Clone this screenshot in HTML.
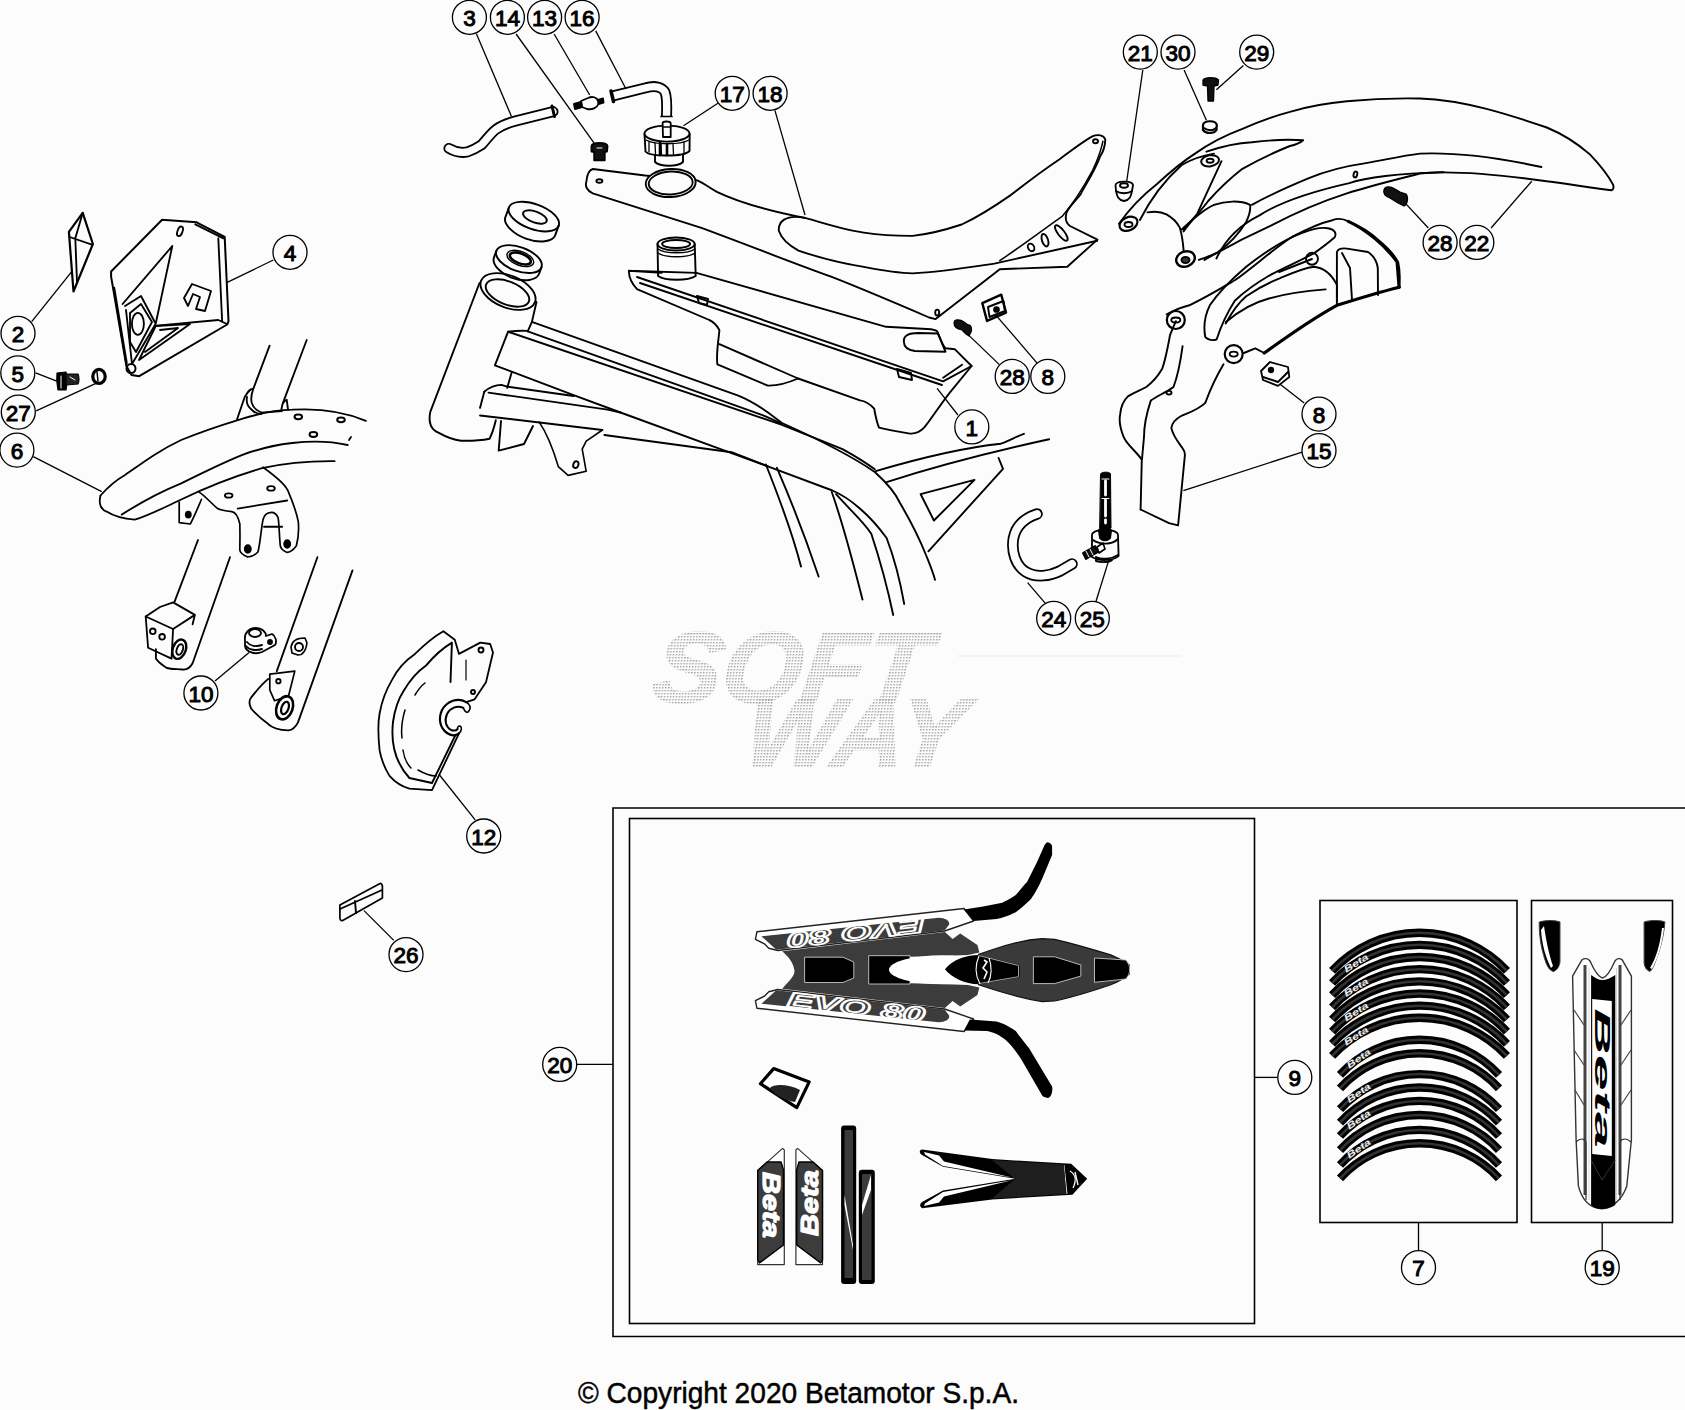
<!DOCTYPE html>
<html><head><meta charset="utf-8"><style>
html,body{margin:0;padding:0;background:#fcfcfc;width:1685px;height:1410px;overflow:hidden}
svg{position:absolute;left:0;top:0}
.cr{position:absolute;left:577px;top:1375px;font-family:"Liberation Sans",sans-serif;font-size:28px;color:#000;white-space:nowrap}
</style></head><body>
<svg width="1685" height="1410" viewBox="0 0 1685 1410">
<defs><pattern id="dots" width="3" height="3" patternUnits="userSpaceOnUse"><rect x="0" y="0" width="1.4" height="1.4" fill="#a0a0a0"/></pattern></defs>
<g font-family="Liberation Sans" font-weight="bold" font-style="italic" fill="url(#dots)" stroke="url(#dots)" stroke-width="2.4">
<text x="650" y="702" font-size="100" textLength="274" lengthAdjust="spacingAndGlyphs" transform="translate(650 702) skewX(-8) translate(-650 -702)">SOFT</text>
<text x="742" y="766" font-size="96" textLength="218" lengthAdjust="spacingAndGlyphs" transform="translate(742 766) skewX(-8) translate(-742 -766)">WAY</text>
</g>
<path d="M958,656 L1182,656" stroke="#f3f3f3" stroke-width="2.5"/>
<g fill="none" stroke="#000" stroke-width="1.85" stroke-linejoin="round" stroke-linecap="round">
<path d="M82.7,212.8 L68.9,231.9 L73.5,291.5 L92.9,244 Z" stroke-width="2.2"/>
<path d="M69.6,237 L91.9,244.7 M82.7,213 L75.3,238.3 L77,282"/>
<path d="M162.1,219.8 L196.6,222.3 L224.7,237 L228.5,321.3 L227.2,324.5 L139.2,376.2 L131.5,374.9 L126.4,366 L111.1,276.6 L111.1,271.5 Z" stroke-width="2"/>
<path d="M195.3,224.3 L223.4,238.3 M218.3,238.3 L222.1,320.6 M157,325.7 L218.3,320 L227,324"/>
<path d="M172.3,246 L122.6,304 M172.3,246 L155.7,323.8 M125,306 L141,296 L155.7,323.8 L132,364 L126,310"/>
<path d="M114,288 L126.5,363" stroke-width="2.4"/>
<ellipse cx="137.9" cy="323.8" rx="6" ry="11" />
<path d="M130,313 L141,304 L152,322 L136,352 L130,342 Z"/>
<path d="M155.7,326 L190,324 L139,360 Z M160,330 L178,328 L145,352"/>
<ellipse cx="180" cy="231.3" rx="2.5" ry="5" transform="rotate(20 180 231.3)"/>
<path d="M184,298 L192,284 L211,291 L205,311 L196,309 L200,297 L193,294 L188,306 Z"/>
<circle cx="131" cy="368.5" r="4.5" stroke-width="2"/>
</g>
<g fill="none" stroke="#000" stroke-width="1.85" stroke-linejoin="round" stroke-linecap="round">
<!-- bolt 5 -->
<path d="M57,373 Q56,381 58,390 L66,390 Q68,381 66,372 Z" fill="#000" stroke-width="1.2"/>
<path d="M66,374 L78,374 Q80,379 78,384 L66,385 Z" fill="#222" stroke-width="1.2"/>
<path d="M61,376 L61,388 M70,377 L75,380" stroke="#fff" stroke-width="1"/>
<!-- washer 27 -->
<ellipse cx="99" cy="376.4" rx="6.2" ry="7" stroke-width="3.2"/>
<path d="M97,372 L98,381" stroke-width="1.5"/>
<!-- front fender 6 -->
<path d="M100.5,495.5 C110,485 118,479 124.7,475.3 C145,461 160,450 181.2,440 C205,430 225,424 241.8,418.8 C258,414 275,410 292.2,409.7 C320,408 345,412 365.9,420.8" stroke-width="1.8"/>
<path d="M100.5,495.5 C98,505 102,510 106.6,511.6 C115,517 125,519 134.8,519.7 C150,515 165,507 181.2,499.5 C205,488 235,476 262,468.2 C290,462 315,461 334.6,461.2" stroke-width="1.8"/>
<path d="M121.7,514.6 C140,503 160,492 181.2,483.4 C200,474 220,464 241.8,455.1 C258,449 275,445 292.2,443 C310,441 330,441 347.7,445"/>
<ellipse cx="298.3" cy="416.8" rx="3.8" ry="2.4" stroke-width="2"/>
<ellipse cx="341" cy="419.8" rx="3.8" ry="2.4" stroke-width="2"/>
<ellipse cx="313.4" cy="434.5" rx="3.8" ry="2.4" stroke-width="2"/>
<ellipse cx="228.7" cy="495.5" rx="3.8" ry="2.2"/>
<ellipse cx="271" cy="488.4" rx="3.8" ry="2.2"/>
<path d="M349,440 L351,437"/>
<!-- fork upper tubes -->
<path d="M269.6,345.7 L253.2,389.1 C250,388 248,392 244.7,397 L236.9,419.7"/>
<path d="M253.2,389.1 C251,395 251,400 251.8,403 C253,407 257,411 262,412.6 L282,411"/>
<path d="M247,397 C246,402 248,407 252,410 C255,413 258,414 261.1,414"/>
<path d="M306.7,340 L282.5,404.1 L281,411.2 M282.5,404.1 C284,401 286,400 286.7,399.8 L288.1,409.8"/>
<!-- bracket -->
<path d="M263,467.2 C278,478 286,485 288.2,491.4 C294,505 297,515 298.3,521.7 C299,530 298,540 296.3,545.9 C293,551 288,553 286.2,552 C282,550 280,547 280.1,543.9 C279,530 279,522 278.1,517.7 C276,513 273,512 270,512.6 C266,513 264,516 263,519.7 C261,530 260,545 257.9,552 C254,556 250,557 247.8,557 C243,555 240,553 239.8,550 C240,540 240,530 239.8,523.7 C238,516 235,512 231.7,511.6 C225,511 220,510 217.6,508.6 C210,502 205,496 199.4,492.4" stroke-width="1.7"/>
<path d="M237.7,508.6 L287.2,500.5 M264,526.7 L282.1,526.7"/>
<ellipse cx="247.8" cy="548.9" rx="3" ry="3.8" fill="#000"/>
<ellipse cx="287.2" cy="543.9" rx="3" ry="3.8" fill="#000"/>
<path d="M179.2,502 L179.2,522.7 L190.3,524 C195,515 199,505 201.4,499.5" stroke-width="1.7"/>
<ellipse cx="188.3" cy="514.6" rx="2.5" ry="3" fill="#000"/>
<!-- lower left fork leg -->
<path d="M198,540 L174.6,601.6 M230,557.2 L192.6,663.3 C190,668 186,670 182.4,669.5 C175,669 170,669 166.8,668 C162,665 158,662 155.9,658.6 L155.9,649.2"/>
<path d="M145.7,616.5 L173.1,629 L171.5,658.6 L148.1,647.7 Z" stroke-width="1.8"/>
<path d="M145.7,616.5 L160,607 L173.1,602.4 L194.9,614.9 L173.1,629 M194.9,614.9 L192.6,624.3"/>
<circle cx="152.8" cy="631.3" r="2.8"/>
<circle cx="162.1" cy="636.8" r="2.8"/>
<ellipse cx="179.3" cy="649.2" rx="6.5" ry="10" stroke-width="2.4" transform="rotate(20 179.3 649.2)"/>
<ellipse cx="179.8" cy="649.5" rx="3" ry="5.5" stroke-width="2" transform="rotate(20 179.8 649.5)"/>
<!-- lower right fork leg -->
<path d="M317.4,557.2 L276.8,671.1 M352.5,570.4 L297.9,722.6 C295,728 292,730 288.5,730.4 C280,730 272,728 268.3,724.1 C260,718 254,712 251.1,708.5 C249,704 249,700 251.1,697.6 C257,690 262,684 268.3,678.9"/>
<path d="M269.8,674.2 L294.8,671.1 L288.5,696 L274.5,700.7 L269.8,690 Z" stroke-width="1.7"/>
<ellipse cx="284.6" cy="707.8" rx="8" ry="12" stroke-width="2.6" transform="rotate(20 284.6 707.8)"/>
<ellipse cx="285" cy="708" rx="3.5" ry="6.5" stroke-width="2.2" transform="rotate(20 285 708)"/>
<circle cx="278.4" cy="681.2" r="2.2"/>
<!-- part 10 clamp -->
<path d="M245,640 C244,632 250,628 256,628 C262,628 266,632 266,636 L272,634 C276,636 277,642 275,645 L262,652 C255,655 246,652 245,646 Z" stroke-width="1.8"/>
<ellipse cx="255" cy="633" rx="6" ry="4"/>
<path d="M247,642 C250,646 256,647 262,645 M246,646 C249,650 256,651 262,649"/>
<circle cx="270" cy="642" r="2" fill="#000"/>
<!-- small nut -->
<path d="M291,647 C292,640 298,638 305,638 L307,643 C306,650 303,655 298,655 L292,653 Z" stroke-width="1.6"/>
<circle cx="299" cy="647" r="4"/>
</g>
<g fill="none" stroke="#000" stroke-width="1.9" stroke-linejoin="round" stroke-linecap="round">
<!-- head tube -->
<ellipse cx="508" cy="291.5" rx="29" ry="16" transform="rotate(22 508 291.5)"/>
<ellipse cx="507.5" cy="293" rx="23" ry="11.5" transform="rotate(22 507.5 293)"/>
<path d="M479.5,283 L430.2,412.1 C428,424 432,430 438.4,432.6 C448,438 455,440 461,440.7 C475,441 483,440 489.6,438.7 C493,432 494,428 495.8,420.3"/>
<path d="M536.5,302 L531.9,321.9 L527.7,331.3"/>
<path d="M511.5,373 L507.2,387.9"/>
<!-- bearing rings -->
<g transform="rotate(20 533.8 216.6)">
<ellipse cx="533.8" cy="216.6" rx="26.5" ry="12.5"/>
<path d="M507.3,216.6 L507.3,227 C507.3,234 520,240 533.8,240 C548,240 560.3,234 560.3,227 L560.3,216.6"/>
<ellipse cx="535" cy="216.6" rx="12.5" ry="5.5"/>
</g>
<g transform="rotate(20 518.9 259.1)">
<ellipse cx="518.9" cy="259.1" rx="24" ry="12"/>
<path d="M494.9,259.1 L494.9,266 C494.9,273 506,279 518.9,279 C532,279 542.9,273 542.9,266 L542.9,259.1"/>
<ellipse cx="520" cy="258" rx="14" ry="7" stroke-width="1.4"/>
<ellipse cx="520" cy="258" rx="11" ry="5" stroke-width="2.6"/>
</g>
<!-- top tube -->
<path d="M531.9,321.9 L737.6,395.3 C760,404 772,416 782,423 C820,440 850,455 874.8,472 C888,484 896,494 900,503 C910,520 920,540 926,555 C930,565 933,572 935,579.8"/>
<path d="M527.7,331.3 L761.8,414.8 C770,418 776,421 782,424"/>
<path d="M508.1,331.7 L782,424.9 C800,432 820,440 842.5,449.1 C855,456 865,462 874.8,469.3"/>
<path d="M526.8,330.9 C520,330.5 514,331 508.1,331.7 L494.9,365.3 L573.6,395.1 L620.5,412.5 L731.5,453.2 L767.8,466.3 L832.4,490.5 C850,498 870,515 886.6,538 C895,560 900,580 904.2,604"/>
<!-- down tube -->
<path d="M484.3,391.7 L480,407.9 M480,415.5 L602.4,430 M604.4,435 L731.5,452.2 L767.8,466.3"/>
<path d="M484.3,391.7 C490,387 496,385 501.3,384.9 L507.2,386.6 L573.6,396"/>
<path d="M488.5,392.6 L607.7,409.6 L620.5,412.5"/>
<path d="M765.9,464.5 C780,500 793,535 801,566.6 M776.9,467.8 C793,505 808,545 818.6,576.5"/>
<path d="M831.8,492 C845,530 855,570 862.5,599.6 M836.1,494.2 C850,510 862,520 871.3,533.7 C880,560 888,590 893.2,615"/>
<!-- head-tube lower gusset & tab -->
<path d="M501,421 L498.7,450.6 L524,444 L533,426"/>
<path d="M539.1,421.9 C548,435 554,452 558.3,466.6 L568.1,475.4 L586.2,471.3 L582.2,449.1 L586.2,441.1 L602.4,430" stroke-width="1.6"/>
<ellipse cx="575.5" cy="464.5" rx="2.5" ry="3.5" transform="rotate(20 575.3 465.5)"/>
<!-- subframe -->
<path d="M875.7,471.1 C920,458 960,448 1000.8,443.7 C1010,440 1018,436 1023.9,433.8 M886.6,482.1 C940,465 1000,450 1049.1,439.3"/>
<path d="M998.6,458 L1003,468.9 L928.4,551.3 M920.7,494.2 L974.5,479.9 L933.9,520.5 Z"/>
</g>
<g fill="none" stroke="#000" stroke-width="1.9" stroke-linejoin="round" stroke-linecap="round">
<!-- seat 18 -->
<path d="M592.8,169 L645.1,175.5 L697.3,180.4 C705,184 710,188 716.9,191.8 C740,203 775,212 805,217.9 C830,225 845,230 863.8,232.6 C880,235 897,236 912.7,235.9 C930,234 945,230 961.7,224.5 C980,216 995,206 1010.7,195.1 C1030,180 1045,169 1059.6,159.2 C1072,150 1082,142 1092.3,136.3 C1098,134 1104,135 1105.3,139.6 C1105,147 1103,152 1100.4,155.9 C1093,175 1085,185 1080.6,194.4 C1072,205 1066,210 1066.1,214.9 C1065,220 1066,223 1070,226 L1097.4,239.6 L1067.3,266.7 L999.8,269.2 L935.6,319.1 L929.1,317.5 C900,305 860,288 831.1,276.7 C790,262 740,242 700.6,227.7 C660,215 620,202 592.8,193.4 C587,191 585,186 586.3,182 C587,174 589,170 592.8,169 Z"/>
<path d="M805,217.9 C785,214 778,222 778.9,231 C782,240 790,246 798.5,250.6 C820,258 840,263 863.8,266.9 C880,270 897,273 912.7,273.4 C940,272 965,268 994.3,263.6 C1030,256 1065,248 1097.2,240.8"/>
<path d="M1102.9,141.3 C1100,155 1096,163 1092.6,170.3 C1082,190 1072,205 1062.5,216.1 C1040,232 1020,247 999.8,260.7" stroke-width="1.5"/>
<ellipse cx="1031.1" cy="247.4" rx="3" ry="4" transform="rotate(-30 1031.1 247.4)"/>
<ellipse cx="1045" cy="240.2" rx="3" ry="6.5" transform="rotate(-18 1045 240.2)"/>
<ellipse cx="1061.3" cy="233" rx="3.2" ry="9.5" transform="rotate(-38 1061.3 233)"/>
<ellipse cx="937.2" cy="312.6" rx="2" ry="3"/>
<ellipse cx="599.4" cy="181" rx="3" ry="1.8"/>
<ellipse cx="1095.5" cy="141.2" rx="2.5" ry="2"/>
<!-- gasket -->
<ellipse cx="670.7" cy="183" rx="25" ry="14" transform="rotate(-3 670.7 183)" fill="#fcfcfc"/>
<ellipse cx="670.7" cy="183" rx="22" ry="11.5" transform="rotate(-3 670.7 183)"/>
<!-- tank 1 -->
<path d="M628.8,270.8 L661.6,272.9 M696.4,272.9 L886.1,326.8 L931.2,329.2 C935,330 937,331 937.2,331.5 C940,338 942,345 945.5,348.2 L955,349.3 L971.6,366 L950.2,392.1 C940,405 932,418 924.1,427.7 C920,432 915,434 909.9,433.6 C900,432 888,430 879,427.7 C876,420 875,413 874.2,408.7 C870,404 865,401 860,400.4 L798.1,378.5 C790,382 780,386 767.8,385.6 L717.4,364.4 C716,355 718,345 719.4,330.1 C717,325 712,321 709.3,320 L637,289.2 C632,284 629,278 628.8,270.8 Z"/>
<path d="M637,277 L943.1,381.4 L971.6,366 M640,283 L941.9,385"/>
<path d="M962.1,364.8 L943.1,377.8"/>
<path d="M719.4,344.2 L798.1,378.5"/>
<path d="M697,296 L708,299 L707,305 L699,303 Z M897,369 L911,373 L912,380 L899,377 Z"/>
<path d="M903.9,342 C903,335 910,333 918,333 L938,333.5 C941,340 943,346 945.5,351.7 L915,351 C907,350 904,347 903.9,342 Z"/>
<!-- filler neck -->
<ellipse cx="676.1" cy="244" rx="18.6" ry="6.5"/>
<ellipse cx="676.1" cy="244" rx="14" ry="4"/>
<path d="M657.5,244 L658.1,276 C665,281 688,281 695.7,276 L694.7,244"/>
<path d="M658,249 C665,254 688,254 695,249 M658,253 C665,258 688,258 695,253" stroke-width="1.3"/>
<!-- filler cap 17 -->
<path d="M655,154 L655,162 C660,167 678,167 683,162 L683,154" fill="#fcfcfc"/>
<path d="M644.5,134 L645.5,151.5 C650,157 684,157 689.5,151 L689.7,134" fill="#fcfcfc"/>
<ellipse cx="667" cy="133.6" rx="22.5" ry="8" fill="#fcfcfc"/>
<path d="M646,140 C655,145 680,145 689,140" stroke-width="1.4"/>
<path d="M649,142 L649,152 M655,143 L655.5,154 M661,143.5 L661.5,155 M673,143.5 L673.5,155 M684,142 L684,153" stroke-width="1.3"/>
<path d="M667,144 L667,155 M660,143 L660,155" stroke-width="2.6"/>
<path d="M663,137 L662.6,123 C663,121 670,121 670.7,123 L670.7,137 Z" fill="#fcfcfc" stroke-width="1.8"/>
<path d="M663,127 L670.5,127" stroke-width="1.5"/>
<!-- bolt 14 -->
<path d="M591.5,146 C592,142 607,142 607.5,146 L607,151.5 L604.7,152 L604.7,160.2 L594.2,160.2 L594.2,152 L591.5,151.5 Z" fill="#111"/>
<path d="M597,148 L602,148" stroke="#fcfcfc" stroke-width="1"/>
</g>
<g stroke-linejoin="round">
<!-- upper strip -->
<path d="M756.9,931.8 L964,908.5 L973.6,921 L944.6,931 L777.8,950.5 L768.8,948.2 L764.4,943.8 L755.4,939.3 Z" fill="#fff" stroke="#222" stroke-width="1.4"/>
<path d="M761.4,936.3 L938.7,917.7 C946,918 950,921 949.1,924.4 L944.6,930.4 L776.3,949.7 Z" fill="#3c3c3c"/>
<text x="0" y="0" transform="translate(856 933) rotate(173.4)" font-family="Liberation Sans" font-weight="bold" font-style="italic" font-size="21" fill="none" stroke="#fff" stroke-width="1.6" text-anchor="middle" dominant-baseline="central" textLength="138" lengthAdjust="spacingAndGlyphs">EVO 80</text>
<!-- lower strip -->
<path d="M756.9,1008.2 L964,1031.5 L973.6,1019 L944.6,1009 L777.8,989.5 L768.8,991.8 L764.4,996.2 L755.4,1000.7 Z" fill="#fff" stroke="#222" stroke-width="1.4"/>
<path d="M761.4,1003.7 L938.7,1022.3 C946,1022 950,1019 949.1,1015.6 L944.6,1009.6 L776.3,990.3 Z" fill="#3c3c3c"/>
<text x="0" y="0" transform="translate(856 1007) rotate(6.6)" font-family="Liberation Sans" font-weight="bold" font-style="italic" font-size="21" fill="none" stroke="#fff" stroke-width="1.6" text-anchor="middle" dominant-baseline="central" textLength="138" lengthAdjust="spacingAndGlyphs">EVO 80</text>
<!-- center panel -->
<path d="M782.2,951.2 L944.9,932 L952.6,939.1 L960.2,933.4 L977.4,944.9 L979.4,952.5 L967.9,955 L940,956 L900,957 L900,983 L940,984 L967.9,985 L979.4,987.5 L977.4,995.1 L960.2,1006.6 L952.6,1000.9 L944.9,1008 L782.2,988.8 C790,980 796,975 794.2,969.1 C793,963 789,957 782.2,951.2 Z" fill="#3c3c3c"/>
<path d="M804.6,957.2 L843,957.2 L853.8,962 L853.8,978 L843,982.5 L804.6,982.5 Z" fill="#000" stroke="#ddd" stroke-width="0.8"/>
<path d="M868.7,955.7 L910,955.7 L910,984 L868.7,984 Z" fill="#000" stroke="#ddd" stroke-width="0.8"/>
<ellipse cx="942" cy="969.8" rx="53" ry="14.5" fill="#fff"/>
<!-- seat decal -->
<path d="M978.6,954.3 C1000,947 1020,940 1042.2,938.7 L1054.6,939.3 C1075,944 1095,950 1110.7,954.9 C1120,959 1126,962 1129.4,964.9 L1129.4,974 C1126,977 1120,981 1110.7,984.8 C1095,990 1075,997 1054.6,1001 L1042.2,1001.6 C1020,998 1000,992 978.6,984.8 Z" fill="#3a3a3a" stroke="#111" stroke-width="1.2"/>
<path d="M945,969.2 C952,960 965,955 978.6,954.9 L1019.7,964.9 L1019.7,977.3 L978.6,984.2 C965,984 952,978 945,969.2 Z" fill="#000"/>
<path d="M978.6,955.5 L1018.5,965.5 L1018.5,976.7 L978.6,983.6" stroke="#ccc" stroke-width="0.8" fill="none"/>
<path d="M979,956 C975,965 975,975 980,984 M989,958 C992,966 992,976 988,983" stroke="#fff" stroke-width="1.1" fill="none"/>
<path d="M984,960 L987,962 L983,968 L987,972 L984,979" stroke="#fff" stroke-width="1.6" fill="none"/>
<path d="M1033.4,956.8 L1054.6,956.8 L1080.8,964.9 L1080.8,976.1 L1054.6,983.6 L1033.4,983.6 Z" fill="#000" stroke="#ddd" stroke-width="0.8"/>
<path d="M1094.5,958 L1126,960 C1129,964 1130,967 1129.4,969.2 C1130,972 1129,975 1126,979 L1094.5,982.3 Z" fill="#000" stroke="#ddd" stroke-width="0.8"/>
<!-- swooshes -->
<path d="M964,909.5 L983.2,906.6 L1002.3,902.8 C1010,899 1013,897 1015.7,895.1 C1021,889 1024,885 1027.2,881.7 L1036.8,862.5 L1044.5,845.3 C1046,843 1047,842 1048.3,842.4 C1050,843 1052,844 1052.1,846.3 L1052.1,854.9 L1042.5,877.9 C1038,888 1035,893 1031,898.9 C1025,905 1020,909 1015.7,912.3 C1008,916 1003,918 996.6,919 L973.6,921 Z" fill="#000"/>
<path d="M964,1030.5 L969.8,1019.6 L996.6,1021.5 C1005,1024 1010,1027 1015.7,1031 C1021,1038 1025,1043 1029.1,1048.3 L1052.1,1086.6 C1053,1092 1051,1097 1048.3,1098 C1046,1098 1044,1097 1042.5,1096.1 L1021.5,1059.8 C1016,1051 1011,1045 1006.2,1040.6 C1000,1035 993,1032 987,1031 Z" fill="#000"/>
<!-- small frame decal -->
<path d="M760.4,1083.7 L773.7,1068.6 L809.2,1081.9 L796.8,1107.6 Z" fill="#fff" stroke="#000" stroke-width="3.2"/>
<path d="M770,1088 C775,1083 790,1085 800,1090 L795,1102 C785,1100 775,1096 770,1088 Z" fill="#222"/>
<!-- beta tank decals -->
<path d="M757.7,1170.6 L782.6,1148.4 L784.3,1150 L784.3,1264.6 L757.7,1264.6 Z" fill="#fff" stroke="#333" stroke-width="1.2"/>
<path d="M757.7,1170.6 L767,1162 L781,1162 L783.5,1170 L783.5,1245 L759.5,1262.9 L757.7,1260 Z" fill="#3c3c3c" stroke="#000" stroke-width="1.4"/>
<text transform="translate(771 1205) rotate(90)" font-family="Liberation Sans" font-weight="bold" font-style="italic" font-size="24" fill="#fff" stroke="#fff" stroke-width="1.2" text-anchor="middle" dominant-baseline="central" textLength="66" lengthAdjust="spacingAndGlyphs">Beta</text>
<path d="M822.5,1170.6 L797.6,1148.4 L795.9,1150 L795.9,1264.6 L822.5,1264.6 Z" fill="#fff" stroke="#333" stroke-width="1.2"/>
<path d="M822.5,1170.6 L813,1162 L799,1162 L796.7,1170 L796.7,1245 L820.7,1262.9 L822.5,1260 Z" fill="#3c3c3c" stroke="#000" stroke-width="1.4"/>
<text transform="translate(809 1203) rotate(-90)" font-family="Liberation Sans" font-weight="bold" font-style="italic" font-size="24" fill="#fff" stroke="#fff" stroke-width="1.2" text-anchor="middle" dominant-baseline="central" textLength="66" lengthAdjust="spacingAndGlyphs">Beta</text>
<!-- tall strips -->
<rect x="841.1" y="1125.4" width="15.1" height="158.7" rx="3" fill="#000"/>
<rect x="844.5" y="1130" width="8.5" height="148" rx="1" fill="#3a3a3a"/>
<path d="M844.5,1195 L853,1245 L853,1250 L844.5,1205 Z" fill="#fff"/>
<rect x="858.8" y="1169.7" width="16" height="114.4" rx="3" fill="#000"/>
<rect x="862" y="1174" width="9.5" height="106" rx="1" fill="#3a3a3a"/>
<path d="M871,1175 L862,1205 L862,1215 L871,1190 Z" fill="#fff"/>
<!-- chevron decal -->
<path d="M922.2,1149.6 L992.2,1159.1 L1071.2,1163.8 L1087.2,1178.7 L1072.4,1194.7 L992.2,1199.4 L922.2,1208.3 C919,1206 920,1204 922,1202 L943,1190.5 L1015.4,1178.7 L943,1166.8 L922,1155 C919,1153 919,1150 922.2,1149.6 Z" fill="#000"/>
<path d="M924,1152 L939,1155.5 L944,1161.5 L1012,1177.6 L943,1166 L925,1154.5 Z" fill="#fff"/>
<path d="M924,1205.9 L939,1202.4 L944,1196.4 L1012,1180.3 L943,1191.9 L925,1203.4 Z" fill="#fff"/>
<path d="M1064,1165 L1067,1194" stroke="#ddd" stroke-width="1"/>
<path d="M992,1160 L1064,1164.5 L1066,1194 L992,1198.5 L1015,1178.9 Z" fill="#1e1e1e"/>
<path d="M1070,1171 C1075,1174 1077,1180 1073,1188 M1075,1172 L1078,1185" stroke="#fff" stroke-width="1.3" fill="none"/>
</g>
<g fill="none" stroke-linecap="butt">
<path d="M1332.1,970.9 A119.2,119.2 0 0 1 1506.9,970.9" stroke="#000" stroke-width="8.4"/>
<path d="M1332.1,970.9 A119.2,119.2 0 0 1 1506.9,970.9" stroke="#333" stroke-width="2.52"/>
<path d="M1332.1,983.0 A119.2,119.2 0 0 1 1506.9,983.0" stroke="#000" stroke-width="8.4"/>
<path d="M1332.1,983.0 A119.2,119.2 0 0 1 1506.9,983.0" stroke="#333" stroke-width="2.52"/>
<text transform="translate(1356.2 963.1) rotate(-32.1)" font-family="Liberation Sans" font-weight="bold" font-style="italic" font-size="9" fill="#eee" text-anchor="middle" dominant-baseline="central" textLength="27" lengthAdjust="spacingAndGlyphs">Beta</text>
<path d="M1332.1,995.2 A119.2,119.2 0 0 1 1506.9,995.2" stroke="#000" stroke-width="8.4"/>
<path d="M1332.1,995.2 A119.2,119.2 0 0 1 1506.9,995.2" stroke="#333" stroke-width="2.52"/>
<path d="M1332.1,1007.3 A119.2,119.2 0 0 1 1506.9,1007.3" stroke="#000" stroke-width="8.4"/>
<path d="M1332.1,1007.3 A119.2,119.2 0 0 1 1506.9,1007.3" stroke="#333" stroke-width="2.52"/>
<text transform="translate(1356.2 987.4) rotate(-32.1)" font-family="Liberation Sans" font-weight="bold" font-style="italic" font-size="9" fill="#eee" text-anchor="middle" dominant-baseline="central" textLength="27" lengthAdjust="spacingAndGlyphs">Beta</text>
<path d="M1332.1,1019.5 A119.2,119.2 0 0 1 1506.9,1019.5" stroke="#000" stroke-width="8.4"/>
<path d="M1332.1,1019.5 A119.2,119.2 0 0 1 1506.9,1019.5" stroke="#333" stroke-width="2.52"/>
<path d="M1332.1,1031.6 A119.2,119.2 0 0 1 1506.9,1031.6" stroke="#000" stroke-width="8.4"/>
<path d="M1332.1,1031.6 A119.2,119.2 0 0 1 1506.9,1031.6" stroke="#333" stroke-width="2.52"/>
<text transform="translate(1356.2 1011.7) rotate(-32.1)" font-family="Liberation Sans" font-weight="bold" font-style="italic" font-size="9" fill="#eee" text-anchor="middle" dominant-baseline="central" textLength="27" lengthAdjust="spacingAndGlyphs">Beta</text>
<path d="M1332.1,1043.8 A119.2,119.2 0 0 1 1506.9,1043.8" stroke="#000" stroke-width="8.4"/>
<path d="M1332.1,1043.8 A119.2,119.2 0 0 1 1506.9,1043.8" stroke="#333" stroke-width="2.52"/>
<path d="M1332.1,1055.9 A119.2,119.2 0 0 1 1506.9,1055.9" stroke="#000" stroke-width="8.4"/>
<path d="M1332.1,1055.9 A119.2,119.2 0 0 1 1506.9,1055.9" stroke="#333" stroke-width="2.52"/>
<text transform="translate(1356.2 1036.0) rotate(-32.1)" font-family="Liberation Sans" font-weight="bold" font-style="italic" font-size="9" fill="#eee" text-anchor="middle" dominant-baseline="central" textLength="27" lengthAdjust="spacingAndGlyphs">Beta</text>
<path d="M1340.0,1074.9 A107.6,107.6 0 0 1 1499.0,1074.9" stroke="#000" stroke-width="8.4"/>
<path d="M1340.0,1074.9 A107.6,107.6 0 0 1 1499.0,1074.9" stroke="#333" stroke-width="2.52"/>
<text transform="translate(1358.7 1058.6) rotate(-34.4)" font-family="Liberation Sans" font-weight="bold" font-style="italic" font-size="9" fill="#eee" text-anchor="middle" dominant-baseline="central" textLength="27" lengthAdjust="spacingAndGlyphs">Beta</text>
<path d="M1340.0,1088.3 A107.6,107.6 0 0 1 1499.0,1088.3" stroke="#000" stroke-width="8.4"/>
<path d="M1340.0,1088.3 A107.6,107.6 0 0 1 1499.0,1088.3" stroke="#333" stroke-width="2.52"/>
<path d="M1340.0,1109.2 A107.6,107.6 0 0 1 1499.0,1109.2" stroke="#000" stroke-width="8.4"/>
<path d="M1340.0,1109.2 A107.6,107.6 0 0 1 1499.0,1109.2" stroke="#333" stroke-width="2.52"/>
<text transform="translate(1358.7 1092.9) rotate(-34.4)" font-family="Liberation Sans" font-weight="bold" font-style="italic" font-size="9" fill="#eee" text-anchor="middle" dominant-baseline="central" textLength="27" lengthAdjust="spacingAndGlyphs">Beta</text>
<path d="M1340.0,1122.6 A107.6,107.6 0 0 1 1499.0,1122.6" stroke="#000" stroke-width="8.4"/>
<path d="M1340.0,1122.6 A107.6,107.6 0 0 1 1499.0,1122.6" stroke="#333" stroke-width="2.52"/>
<path d="M1340.0,1136.0 A107.6,107.6 0 0 1 1499.0,1136.0" stroke="#000" stroke-width="8.4"/>
<path d="M1340.0,1136.0 A107.6,107.6 0 0 1 1499.0,1136.0" stroke="#333" stroke-width="2.52"/>
<text transform="translate(1358.7 1119.7) rotate(-34.4)" font-family="Liberation Sans" font-weight="bold" font-style="italic" font-size="9" fill="#eee" text-anchor="middle" dominant-baseline="central" textLength="27" lengthAdjust="spacingAndGlyphs">Beta</text>
<path d="M1340.0,1150.1 A107.6,107.6 0 0 1 1499.0,1150.1" stroke="#000" stroke-width="8.4"/>
<path d="M1340.0,1150.1 A107.6,107.6 0 0 1 1499.0,1150.1" stroke="#333" stroke-width="2.52"/>
<path d="M1340.0,1165.0 A107.6,107.6 0 0 1 1499.0,1165.0" stroke="#000" stroke-width="8.4"/>
<path d="M1340.0,1165.0 A107.6,107.6 0 0 1 1499.0,1165.0" stroke="#333" stroke-width="2.52"/>
<text transform="translate(1358.7 1148.7) rotate(-34.4)" font-family="Liberation Sans" font-weight="bold" font-style="italic" font-size="9" fill="#eee" text-anchor="middle" dominant-baseline="central" textLength="27" lengthAdjust="spacingAndGlyphs">Beta</text>
<path d="M1340.0,1178.4 A107.6,107.6 0 0 1 1499.0,1178.4" stroke="#000" stroke-width="8.4"/>
<path d="M1340.0,1178.4 A107.6,107.6 0 0 1 1499.0,1178.4" stroke="#333" stroke-width="2.52"/>
</g><g stroke-linejoin="round">
<!-- side decals -->
<path d="M1539.2,922 C1545,920 1555,920 1560,921.9 L1560,962 C1559,968 1556,971 1553.1,971.5 C1549,970 1547,966 1545,960 C1541,948 1539,935 1539.2,922 Z" fill="#000" stroke="#444" stroke-width="1"/>
<path d="M1541,930 C1542,945 1546,958 1551,968 L1553,966 C1549,955 1546,940 1544,926 Z" fill="#fff"/>
<path d="M1644.1,922 C1650,920 1660,920 1664.9,921.9 C1664,935 1660,950 1656,960 C1654,966 1652,970 1649.9,971.5 C1646,970 1644,966 1644.1,962 Z" fill="#000" stroke="#444" stroke-width="1"/>
<path d="M1662,928 C1660,945 1656,958 1650,968 L1652,969 C1658,958 1662,945 1664,928 Z" fill="#fff"/>
<!-- main fender decal -->
<path d="M1581.9,959.9 C1584,958 1588,958 1590,961 C1594,970 1598,977 1602.6,978 C1607,977 1611,970 1615,961 C1617,958 1620,958 1622.2,959.9 L1631.4,976.1 L1631.4,1139.7 L1626.8,1185.9 C1622,1200 1612,1208 1601.5,1208.9 C1590,1208 1582,1200 1578.4,1185.9 L1576.1,1139.7 L1572.6,976.1 Z" fill="#fff" stroke="#333" stroke-width="1.4"/>
<path d="M1591.1,975 C1595,978 1599,980 1602.6,980 C1606,980 1611,978 1615.3,975 L1615.3,1205 C1611,1208 1605,1209 1602,1209 C1598,1209 1594,1208 1591.1,1205 Z" fill="#000"/>
<path d="M1585,965 L1585,1195 M1620,965 L1620,1195" stroke="#444" stroke-width="3" fill="none"/>
<path d="M1589,968 L1589,1200 M1616.5,968 L1616.5,1200" stroke="#ccc" stroke-width="0.8" fill="none"/>
<path d="M1592.2,999.1 L1611.8,1001 L1611.8,1155.9 L1592.2,1154 Z" fill="#fff"/>
<text transform="translate(1602 1078) rotate(90)" font-family="Liberation Sans" font-weight="bold" font-style="italic" font-size="22" fill="#000" text-anchor="middle" dominant-baseline="central" textLength="140" lengthAdjust="spacingAndGlyphs">Beta</text>
<path d="M1574,1010 L1584,1025 M1574,1050 L1584,1065 M1575,1090 L1584,1105 M1631,1010 L1621,1025 M1631,1050 L1621,1065 M1631,1090 L1621,1105" stroke="#444" stroke-width="1.2" fill="none"/>
<path d="M1576,1142 C1580,1138 1584,1138 1586,1142 L1586,1200 M1631,1142 C1627,1138 1622,1138 1620,1142 L1620,1200" stroke="#333" stroke-width="1.2" fill="none"/>
<path d="M1591.1,1160 L1602,1180 L1615.3,1160" stroke="#333" stroke-width="1" fill="none"/>
</g>
<g fill="none" stroke="#000" stroke-width="1.9" stroke-linejoin="round" stroke-linecap="round">
<!-- rear fender 22 -->
<path d="M1119,223.8 C1130,208 1143,195 1157,184 C1170,172 1182,162 1195,153.6 C1210,143 1226,135 1242.4,128.9 C1258,122 1274,116 1289.9,111.8 C1310,106 1328,103 1346.9,101.3 C1370,99 1395,98 1420,98.5 C1465,100 1510,115 1546.8,127.5 C1565,135 1578,144 1589.9,154.4 C1600,165 1608,175 1613.2,184.9 C1614,188 1613,190 1611.4,190.3 C1590,188 1570,184 1546.8,181.3 C1510,176 1475,172 1439,172.4 C1400,173 1365,178 1349.3,183.1 C1310,192 1280,202 1259.5,215.4 C1240,225 1225,240 1216.4,258.5"/>
<path d="M1251.9,204.8 C1270,195 1290,186 1308.9,178.2 C1328,170 1346,166 1365.9,163.1 C1385,160 1400,156 1420,153.6 C1460,152 1500,158 1541.4,167"/>
<path d="M1204.5,259.9 C1225,248 1248,236 1270.9,225.7 C1295,213 1320,202 1346.9,193.4 C1370,186 1395,180 1420,173.5 C1440,172 1450,172 1439,172.4"/>
<!-- left arm -->
<path d="M1139.9,220 C1150,200 1165,180 1181.7,165 C1190,160 1200,156 1214,153.6"/>
<path d="M1206.4,151.7 C1220,147 1235,143 1251.9,142.2 C1270,140 1285,139 1303.2,140.3 C1300,143 1295,145 1289.9,146 C1275,152 1258,160 1242.4,168.8 C1228,180 1218,190 1208.2,201 C1200,212 1190,222 1183.6,231.4"/>
<path d="M1221.5,161.2 L1196.9,214.3 L1183.6,229.5"/>
<path d="M1147.5,212.4 C1155,211 1162,212 1166.5,214.3 C1173,218 1177,222 1179.8,227.6 C1182,235 1183,243 1183.6,250.4"/>
<path d="M1181.7,229.5 C1192,220 1202,210 1214,204.8 C1225,201 1240,200 1250,204.8 C1251,210 1249,216 1246.2,221.9 C1238,235 1228,245 1217.7,252.3 C1210,256 1205,258 1198.8,259.9"/>
<ellipse cx="1210.1" cy="160.8" rx="9" ry="5.5" transform="rotate(-10 1210.1 160.8)" stroke-width="2"/>
<ellipse cx="1210.1" cy="160.8" rx="3.5" ry="2"/>
<ellipse cx="1128.5" cy="223.8" rx="9.5" ry="6.5" transform="rotate(-25 1128.5 223.8)" stroke-width="2.2"/>
<ellipse cx="1128.5" cy="224.5" rx="4" ry="2.5"/>
<ellipse cx="1185.5" cy="259" rx="9.5" ry="7.5" transform="rotate(-20 1185.5 259)" stroke-width="2.4"/>
<ellipse cx="1185.5" cy="260" rx="4" ry="3" fill="#333"/>
<ellipse cx="1355.4" cy="174.5" rx="1.8" ry="3" transform="rotate(15 1355.4 174.5)"/>
<!-- nut 21 -->
<path d="M1115.5,185 C1116,181 1132,180 1133,185 L1132,191 C1131,196 1130,200 1124,201 C1118,200 1117,196 1116,191 Z" stroke-width="1.8"/>
<ellipse cx="1124" cy="185.5" rx="4" ry="2.2"/>
<path d="M1116,191 C1120,194 1128,194 1132,191"/>
<!-- nut 30 -->
<path d="M1203,125 C1204,120 1216,120 1216.8,125 L1216.5,130 C1214,134 1206,134 1203,130 Z" stroke-width="2.2"/>
<path d="M1204,128 C1208,131 1213,131 1216,128" stroke-width="2"/>
<!-- bolt 29 -->
<path d="M1203,80 C1205,77 1216,77 1218.5,80 L1218,85 L1214,86 L1213.5,101 L1208,101 L1207.5,86 L1203,85 Z" fill="#111" stroke-width="1.3"/>
<!-- bolt 28 -->
<path d="M1384,190 C1385,186 1390,186 1395,189 L1400,192 L1406,194 C1409,198 1407,205 1404,206 L1398,203 L1390,198 C1385,196 1383,193 1384,190 Z" fill="#111" stroke-width="1.3"/>
<!-- mudguard 15 -->
<path d="M1140.6,509.5 L1141.8,459.6 C1135,450 1127,445 1123.6,436.9 C1120,428 1119,420 1120.2,414.2 C1121,405 1124,400 1128.2,396.1 C1135,392 1141,390 1146.3,387 C1153,382 1158,376 1162.2,368.8 C1166,358 1168,346 1170.1,334.8 L1175.8,321.2"/>
<path d="M1166.7,314.4 C1175,310 1182,307 1189.4,305.3 C1205,298 1220,289 1234.8,280.3 C1255,266 1272,250 1291.5,237.2 C1305,230 1320,223 1332.4,220.2 C1338,218 1344,219 1348.3,221.3 C1360,226 1370,232 1377.8,239.5 C1387,247 1394,254 1398.2,262.2 C1400,270 1400,280 1399.3,287.2"/>
<path d="M1399.3,287.2 C1380,292 1360,298 1336.9,305.3 C1310,320 1285,338 1264.3,353" stroke-width="3.2"/>
<path d="M1264.3,353 L1255.2,348.4 L1243.9,353 M1223.5,364.3 C1216,377 1210,390 1205.3,402.9 C1198,410 1188,413 1180.3,416.5 C1174,420 1172,424 1171.3,427.9 C1173,436 1178,442 1182.6,448.3 C1184,450 1185,452 1184.9,455.1 L1178.1,525.4 L1169,523.2 L1140.6,509.5"/>
<path d="M1182.6,346.2 C1180,365 1177,378 1173.5,387 C1165,393 1157,396 1150.8,400.6 C1146,415 1144,425 1144,436.9 L1142,459"/>
<path d="M1205.3,337.1 C1203,325 1205,315 1209.8,305.3 C1220,290 1233,278 1246.2,266.7 C1265,252 1283,240 1302.9,232.7 C1312,229 1320,227 1327.9,228.2 C1334,229 1337,233 1334.7,237.2 C1327,244 1320,249 1314.2,253.1 C1298,262 1283,268 1268.9,275.8 C1255,284 1244,292 1234.8,300.8 C1227,313 1221,326 1216.7,339.3 C1213,341 1208,340 1205.3,337.1 Z"/>
<path d="M1225.7,323.5 C1232,312 1238,303 1246.2,296.2 C1258,288 1268,283 1280.2,278.1 C1292,273 1303,268 1314.2,266.7 C1325,268 1332,275 1336.9,284.9 L1336.9,305"/>
<path d="M1226,322 C1240,310 1252,303 1268.9,298.5 C1288,293 1305,291 1325.6,289.4"/>
<path d="M1279,272 L1312,259 M1336.9,301 L1336.9,252 C1338,249 1342,248 1347,248.6 L1368,252 C1374,256 1377,262 1377.8,268 L1378,295"/>
<path d="M1342,253 L1350,268 L1352,300" />
<path d="M1348.3,221.3 C1365,229 1385,245 1397,262 L1399,287" stroke-width="3"/>
<circle cx="1175.8" cy="320" r="9" stroke-width="2.2"/>
<ellipse cx="1175.8" cy="320" rx="4.5" ry="2.5"/>
<circle cx="1233.7" cy="354.1" r="9" stroke-width="2.2"/>
<ellipse cx="1233.7" cy="354.1" rx="4" ry="2.5"/>
<circle cx="1312" cy="258.8" r="6"/>
<ellipse cx="1169" cy="392.7" rx="2.5" ry="1.8"/>
<!-- nut 8 right -->
<path d="M1261,371 L1270,362 L1288,367 L1289.3,377 L1278,385.9 L1263,380 Z" stroke-width="1.8"/>
<path d="M1263,377 L1278,382 L1288,372"/>
<circle cx="1271" cy="370" r="2.2" fill="#000"/>
<!-- nut 8 & bolt 28 (left) -->
<path d="M982.3,303.1 L1001.3,294.7 L1006,312.6 L987,320.9 Z" stroke-width="2.4"/>
<path d="M988,307 L1003.5,301 L1005,311 L989.5,317 Z"/>
<circle cx="996.5" cy="309.5" r="2.4" fill="#000"/>
<path d="M954,323 C954,319 960,319 964,322 L968,325 C970,324 972,327 971.5,331 L969,336 L966,334 L962,330 C957,329 954,327 954,323 Z" fill="#111" stroke-width="1.2"/>
</g>
<g fill="none" stroke="#000" stroke-width="1.9" stroke-linejoin="round" stroke-linecap="round">
<!-- hose 3 -->
<path d="M449,148.4 C455,152 462,153 467.5,151.9 C473,150 477,148 481.7,144.8 C487,139 491,133 496,129.4 C502,125 508,123 515,121.1 L553,111.6" stroke-width="11"/>
<path d="M449,148.4 C455,152 462,153 467.5,151.9 C473,150 477,148 481.7,144.8 C487,139 491,133 496,129.4 C502,125 508,123 515,121.1 L553,111.6" stroke="#fcfcfc" stroke-width="7.4"/>
<path d="M552,106 L554.5,116.5" stroke-width="3"/>
<!-- hose 16 -->
<path d="M612,96.1 L645,88 C655,85 662,87 665,92 C667,97 667,105 666.5,116.5" stroke-width="11" stroke-linecap="butt"/>
<path d="M612,96.1 L645,88 C655,85 662,87 665,92 C667,97 667,105 666.5,116.5" stroke="#fcfcfc" stroke-width="7.4" stroke-linecap="butt"/>
<path d="M611,91 L613.5,101.5" stroke-width="3.5"/>
<path d="M661,116.5 L672,116.5" stroke-width="1.7"/>
<!-- part 13 -->
<path d="M581,101 L588,98 C592,96 597,97 598,101 L598.5,104 C597,108 592,110 587,109 L582,107 Z" stroke-width="1.8"/>
<path d="M574,104 L581,102 L582,107 L575,109 Z M598,100 L603,98.5 L603.5,102.5 L598.5,104" fill="#000"/>
<!-- hose 24 -->
<path d="M1037,514 C1025,518 1016,526 1013.5,538 C1011,552 1016,566 1026,572 C1036,578 1050,576 1060,571 L1072,564" stroke-width="11.5"/>
<path d="M1037,514 C1025,518 1016,526 1013.5,538 C1011,552 1016,566 1026,572 C1036,578 1050,576 1060,571 L1072,564" stroke="#fcfcfc" stroke-width="8"/>
<!-- tap 25 -->
<path d="M1100.5,474 C1100.5,471.5 1110.5,471.5 1110.5,474 L1111,528 L1100,528 Z" fill="#000" stroke-width="1"/>
<path d="M1105.5,481 L1105.5,495 M1105.5,500 L1105.5,516 M1105.5,520 L1105.5,523" stroke="#fcfcfc" stroke-width="2.8"/>
<path d="M1102,479 L1109,479 M1102,498.5 L1109,498.5" stroke="#fcfcfc" stroke-width="1"/>
<path d="M1092,535 C1092,528 1118,528 1118,535 L1118.6,556 C1115,560 1100,562 1092,557 Z" stroke-width="1.8"/>
<path d="M1093,540 C1100,545 1112,545 1118,539"/>
<path d="M1099,531 C1099,527 1111,527 1111,531 L1110,538 C1107,541 1103,541 1100,538 Z" fill="#000"/>
<path d="M1083,553 L1095,546 L1098,552 L1086,559 Z" fill="#111"/>
<path d="M1086,551 L1089,557 M1090,549 L1093,555" stroke="#fcfcfc" stroke-width="1"/>
<path d="M1097,547 L1103,543 L1105,549 L1099,553 Z" stroke-width="1.6"/>
<path d="M1096,557 C1102,560 1112,559 1118,555 M1096,557 L1096,561 C1102,563 1110,562 1112,560"/>
<!-- sprocket guard 12 -->
<path d="M443.4,631.2 L454.8,639.7 L459,653.9 L480.3,642.6 L490.2,644 L493,652.5 L486,682.3 L474.6,699.3 L466.1,702.1 M459,733.3 L432,790.1 L409.4,788.7 C400,786 394,781 389.5,775.9 C384,767 381,758 379.6,750.4 C378,735 378,722 379.6,713.5 C382,700 386,690 392.3,679.4 C398,668 406,660 415,653.9 C424,645 433,637 443.4,631.2" stroke-width="1.8"/>
<path d="M393,722 C395,708 399,698 403.7,690.8 C410,680 418,671 426.4,665.2 C434,656 443,648 451.9,642.6 L450.5,682"/>
<path d="M393,722 C391,740 393,760 409.4,778 L432,783 L455,736"/>
<path d="M405,710 C402,720 401,730 402,738 M403,750 C404,757 407,764 411,768 M418,770 C425,774 432,776 436,776 M415,695 C418,690 421,686 425,683" stroke-width="1.5"/>
<path d="M466.1,702.1 C458,697 447,701 442,710 C438,719 440,728 447,733 C451,736 456,736 459,733.3" stroke-width="2.2"/>
<path d="M463.3,707.8 C457,705 450,708 447,714 C444,721 446,727 451,730 C454,731 456,731 457.6,729.1" stroke-width="2"/>
<path d="M466,702 C470,704 472,708 468,712 C466,713 464,710 463.3,707.8 M459,733.3 C462,731 462,727 460,726 C458,726 457,728 457.6,729.1" stroke-width="1.6"/>
<circle cx="481" cy="650" r="2.5"/>
<circle cx="473" cy="692" r="2"/>
<path d="M466,660 L466,680" stroke-width="1.2"/>
<!-- part 26 -->
<path d="M339.9,905 L379.6,883.7 C381,883 382,884 382.4,886 L382.4,897.9 L342.7,920.6 C341,921 340,920 339.9,918 Z" stroke-width="1.7"/>
<path d="M340,909 L382,890 M355,901 L356,913"/>
</g>

<g fill="none" stroke="#000" stroke-width="1.6">
<path d="M1690 808 H613 V1336.5 H1690"/>
<rect x="629.5" y="818.5" width="625" height="505"/>
<rect x="1320" y="900.5" width="197" height="322"/>
<rect x="1531.5" y="900.5" width="141" height="322"/>
</g>
<g stroke="#000" stroke-width="1.3" fill="none"><line x1="476.5" y1="34" x2="511.4" y2="116.3"/><line x1="516.1" y1="34" x2="594.5" y2="143.6"/><line x1="554.1" y1="34" x2="589.7" y2="95"/><line x1="595.7" y1="30.9" x2="626" y2="89"/><line x1="717.9" y1="103.3" x2="683.5" y2="125.8"/><line x1="774.9" y1="110.4" x2="805" y2="215"/><line x1="1142.8" y1="70" x2="1126.7" y2="181.3"/><line x1="1184.1" y1="70" x2="1206.4" y2="120.3"/><line x1="1243.4" y1="65.4" x2="1216.4" y2="89.8"/><line x1="1428.3" y1="228" x2="1405" y2="202.9"/><line x1="1491.1" y1="228" x2="1531.7" y2="181.3"/><line x1="999.4" y1="364.6" x2="966.8" y2="333.4"/><line x1="1037.1" y1="363.1" x2="995" y2="314.1"/><line x1="957.9" y1="415" x2="937.1" y2="388.3"/><line x1="1304.2" y1="403.1" x2="1279.8" y2="383.9"/><line x1="1302.1" y1="452.1" x2="1183.4" y2="490.7"/><line x1="1045.4" y1="603.4" x2="1027.6" y2="582.7"/><line x1="1095.8" y1="602" x2="1109.2" y2="558.9"/><line x1="215" y1="680.9" x2="249.1" y2="652.5"/><line x1="475.2" y1="819.9" x2="439.1" y2="774.5"/><line x1="393.8" y1="940.4" x2="364" y2="910.6"/><line x1="576.7" y1="1064.4" x2="613" y2="1064.4"/><line x1="31.7" y1="321.7" x2="71.7" y2="271.7"/><line x1="35.6" y1="372.9" x2="56.1" y2="380.8"/><line x1="36.2" y1="410.9" x2="96.5" y2="383.2"/><line x1="33.3" y1="456.7" x2="101.7" y2="491.7"/><line x1="273.3" y1="260" x2="226.7" y2="282.7"/><line x1="1254.7" y1="1077.4" x2="1277.5" y2="1077.4"/><line x1="1418.5" y1="1222.6" x2="1418.5" y2="1250.3"/><line x1="1602.2" y1="1222.6" x2="1602.2" y2="1250.3"/><circle cx="469.4" cy="17.3" r="17" fill="#fcfcfc"/><circle cx="507.4" cy="17.3" r="17" fill="#fcfcfc"/><circle cx="544.6" cy="17.3" r="17" fill="#fcfcfc"/><circle cx="582.1" cy="17.3" r="17" fill="#fcfcfc"/><circle cx="732.2" cy="93.3" r="17" fill="#fcfcfc"/><circle cx="770.1" cy="93.3" r="17" fill="#fcfcfc"/><circle cx="1140.3" cy="52.1" r="17" fill="#fcfcfc"/><circle cx="1178" cy="52.1" r="17" fill="#fcfcfc"/><circle cx="1256.7" cy="52.1" r="17" fill="#fcfcfc"/><circle cx="1440.1" cy="242.4" r="17" fill="#fcfcfc"/><circle cx="1476.8" cy="242.4" r="17" fill="#fcfcfc"/><circle cx="290" cy="252.3" r="17" fill="#fcfcfc"/><circle cx="18" cy="333.3" r="17" fill="#fcfcfc"/><circle cx="17.8" cy="372.9" r="17" fill="#fcfcfc"/><circle cx="18.3" cy="412.1" r="17" fill="#fcfcfc"/><circle cx="16.9" cy="450.1" r="17" fill="#fcfcfc"/><circle cx="1012.2" cy="376.4" r="17" fill="#fcfcfc"/><circle cx="1047.8" cy="376.4" r="17" fill="#fcfcfc"/><circle cx="971.8" cy="426.9" r="17" fill="#fcfcfc"/><circle cx="1319" cy="414.1" r="17" fill="#fcfcfc"/><circle cx="1319" cy="450.6" r="17" fill="#fcfcfc"/><circle cx="1053.7" cy="618.3" r="17" fill="#fcfcfc"/><circle cx="1092.3" cy="618.3" r="17" fill="#fcfcfc"/><circle cx="200.9" cy="693" r="17" fill="#fcfcfc"/><circle cx="483.7" cy="836" r="17" fill="#fcfcfc"/><circle cx="406" cy="954.6" r="17" fill="#fcfcfc"/><circle cx="559.7" cy="1064.4" r="17" fill="#fcfcfc"/><circle cx="1294.8" cy="1077.4" r="17" fill="#fcfcfc"/><circle cx="1418.5" cy="1267.6" r="17" fill="#fcfcfc"/><circle cx="1602.2" cy="1267.6" r="17" fill="#fcfcfc"/></g><g font-family="Liberation Sans" font-size="22.5" text-anchor="middle" fill="#000" stroke="#000" stroke-width="1.0"><text x="469.4" y="26.1">3</text><text x="507.4" y="26.1">14</text><text x="544.6" y="26.1">13</text><text x="582.1" y="26.1">16</text><text x="732.2" y="102.1">17</text><text x="770.1" y="102.1">18</text><text x="1140.3" y="60.900000000000006">21</text><text x="1178" y="60.900000000000006">30</text><text x="1256.7" y="60.900000000000006">29</text><text x="1440.1" y="251.20000000000002">28</text><text x="1476.8" y="251.20000000000002">22</text><text x="290" y="261.1">4</text><text x="18" y="342.1">2</text><text x="17.8" y="381.7">5</text><text x="18.3" y="420.90000000000003">27</text><text x="16.9" y="458.90000000000003">6</text><text x="1012.2" y="385.2">28</text><text x="1047.8" y="385.2">8</text><text x="971.8" y="435.7">1</text><text x="1319" y="422.90000000000003">8</text><text x="1319" y="459.40000000000003">15</text><text x="1053.7" y="627.0999999999999">24</text><text x="1092.3" y="627.0999999999999">25</text><text x="200.9" y="701.8">10</text><text x="483.7" y="844.8">12</text><text x="406" y="963.4">26</text><text x="559.7" y="1073.2">20</text><text x="1294.8" y="1086.2">9</text><text x="1418.5" y="1276.3999999999999">7</text><text x="1602.2" y="1276.3999999999999">19</text></g>
<text x="578" y="1403.4" font-family="Liberation Sans" font-size="28" fill="#000" stroke="#000" stroke-width="0.45" transform="translate(0 1403.4) scale(1 1.07) translate(0 -1403.4)" textLength="441" lengthAdjust="spacingAndGlyphs">© Copyright 2020 Betamotor S.p.A.</text>
</svg>

</body></html>
